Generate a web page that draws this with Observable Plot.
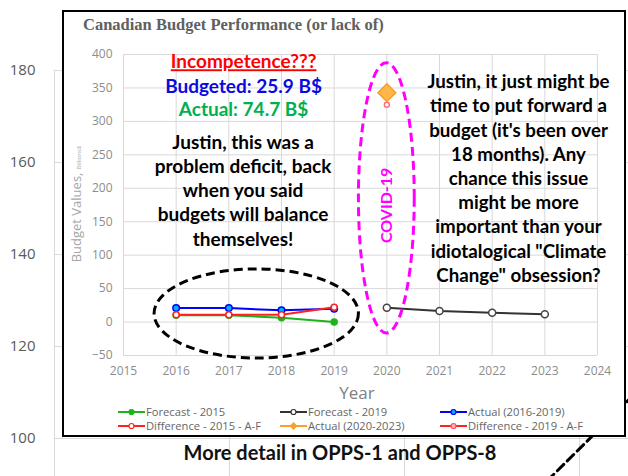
<!DOCTYPE html>
<html><head><meta charset="utf-8">
<script src="https://cdn.jsdelivr.net/npm/d3@7"></script>
<script src="https://cdn.jsdelivr.net/npm/@observablehq/plot@0.6"></script>
<style>
body{margin:0;background:#fff;}
#wrap{position:relative;width:628px;height:476px;overflow:hidden;background:#fff;}
#wrap > svg, #wrap > div{position:absolute;left:0;top:0;}
#box{position:absolute;left:62px !important;top:10px !important;width:560px;height:423px;border:2px solid #000;background:#fff;}
</style></head>
<body><div id="wrap"></div>
<script>
// ---------- data ----------
const xTicks = [2015,2016,2017,2018,2019,2020,2021,2022,2023,2024];
const yTicks = [-50,0,50,100,150,200,250,300,350,400];
const years2016_2019 = [2016,2017,2018,2019];
const forecast2015 = [10,10,6.5,0];
const actual2016_2019 = [21,21,17.5,20];
const difference2015 = [11,11,11,22];
const years2020_2023 = [2020,2021,2022,2023];
const forecast2019 = [21.5,16.5,14,11.5];
const years2020 = [2020];
const actual2020_2023 = [343];
const difference2019 = [325];
const legendLabels = ["Forecast - 2015","Forecast - 2019","Actual (2016-2019)","Difference - 2015 - A-F","Actual (2020-2023)","Difference - 2019 - A-F"];
const bgYTicks = [100,120,140,160,180];
const bgXGrid = [0,1,2,3];
const bgArrowX = [2.76, 3.349];
const bgArrowY = [88.7, 110.96];

const headline = [
  {x:2017.28, y:388.5, text:"Incompetence???", color:"#ff0000"},
  {x:2017.28, y:351, text:"Budgeted: 25.9 B$", color:"#0a0ae0"},
  {x:2017.28, y:316.5, text:"Actual: 74.7 B$", color:"#00b050"}
];
const leftNote = [{x:2017.27, y:198.4, text:"Justin, this was a\nproblem deficit, back\nwhen you said\nbudgets will balance\nthemselves!"}];
const rightNote = [{x:2022.5, y:216.4, text:"Justin, it just might be\ntime to put forward a\nbudget (it's been over\n18 months). Any\nchance this issue\nmight be more\nimportant than your\nidiotalogical \"Climate\nChange\" obsession?"}];
const covidNote = [{x:2020, y:174.5, text:"COVID-19"}];
const covidEllipse = {x:2020, y:185, rx:0.53, ry:202, color:"#ff00ff"};
const deficitEllipse = {x:2017.53, y:12.1, rx:1.94, ry:66.6, color:"#000000"};

const rows = (xs, ys) => xs.map((x,i) => ({x, y: ys[i]}));
const wrap = document.getElementById("wrap");

// ---------- background chart (partially hidden) ----------
const bg = Plot.plot({
  width:628, height:476, marginLeft:54, marginRight:0, marginTop:70, marginBottom:0,
  style:{background:"transparent", fontFamily:"'Open Sans', sans-serif", fontSize:"15px", color:"#595959"},
  x:{domain:[0,3.28], axis:null},
  y:{domain:[91.74,180], ticks:bgYTicks, tickSize:0, tickPadding:19, label:null},
  marks:[
    Plot.ruleY(bgYTicks,{stroke:"#d9d9d9"}),
    Plot.ruleX(bgXGrid,{stroke:"#d9d9d9"}),
    Plot.line(rows(bgArrowX,bgArrowY),{x:"x",y:"y",stroke:"#000",strokeWidth:3,strokeDasharray:"9,5"})
  ]
});
wrap.appendChild(bg);

const box = document.createElement("div");
box.id = "box";
wrap.appendChild(box);

// ---------- main chart ----------
const dotOpts = (fill, stroke, r=3) => ({x:"x", y:"y", fill, stroke, r, strokeWidth:1.5});
const main = Plot.plot({
  width:628, height:476, marginLeft:123, marginRight:31, marginTop:54, marginBottom:121,
  style:{background:"transparent", fontFamily:"'Open Sans', sans-serif", fontSize:"12px", color:"#8c8c8c", overflow:"visible"},
  x:{domain:[2015,2024], ticks:xTicks, tickFormat:d=>String(d), tickSize:0, tickPadding:11, label:null},
  y:{domain:[-50,400], ticks:yTicks, tickSize:0, tickPadding:11, label:null},
  marks:[
    Plot.ruleX(xTicks,{stroke:"#d9d9d9"}),
    Plot.ruleY(yTicks,{stroke:"#d9d9d9"}),
    Plot.line(rows(years2016_2019,forecast2015),{x:"x",y:"y",stroke:"#1db31d",strokeWidth:2}),
    Plot.dot(rows(years2016_2019,forecast2015),dotOpts("#1db31d","#1db31d")),
    Plot.line(rows(years2016_2019,actual2016_2019),{x:"x",y:"y",stroke:"#0000ff",strokeWidth:2}),
    Plot.dot(rows(years2016_2019,actual2016_2019),dotOpts("#00b0f0","#0000ff",3.3)),
    Plot.line(rows(years2016_2019,difference2015),{x:"x",y:"y",stroke:"#ff2020",strokeWidth:2}),
    Plot.dot(rows(years2016_2019,difference2015),dotOpts("#ffffff","#ff2020")),
    Plot.line(rows(years2020_2023,forecast2019),{x:"x",y:"y",stroke:"#333333",strokeWidth:2}),
    Plot.dot(rows(years2020_2023,forecast2019),dotOpts("#ffffff","#444444",3.5)),
    Plot.dot(rows(years2020,actual2020_2023),{x:"x",y:"y",symbol:"diamond2",r:8,fill:"#ffb74d",stroke:"#f5a020",strokeWidth:1.5}),
    Plot.dot(rows(years2020,difference2019),dotOpts("#ffffff","#ff7080",2.5)),
    Plot.text(headline,{x:"x",y:"y",text:"text",fill:"color",fontFamily:"Lato, sans-serif",fontWeight:"bold",fontSize:19}),
    Plot.text(leftNote,{x:"x",y:"y",text:"text",fill:"#000",fontFamily:"Lato, sans-serif",fontWeight:"bold",fontSize:19,lineHeight:1.274}),
    Plot.text(rightNote,{x:"x",y:"y",text:"text",fill:"#000",fontFamily:"Lato, sans-serif",fontWeight:"bold",fontSize:18.7,lineHeight:1.295}),
    Plot.text(covidNote,{x:"x",y:"y",text:"text",fill:"#ff00ff",rotate:-90,fontFamily:"Lato, sans-serif",fontWeight:"bold",fontSize:16})
  ]
});
wrap.appendChild(main);

// underline headline
main.querySelectorAll("text").forEach(t => { if (t.textContent === "Incompetence???") t.style.textDecoration = "underline"; });

// ellipses through scales
const sx = d3.scaleLinear().domain([2015,2024]).range([123,597]);
const sy = d3.scaleLinear().domain([-50,400]).range([355,54]);
const xs = main.scale && main.scale("x") && main.scale("x").apply ? main.scale("x").apply : sx;
const ys = main.scale && main.scale("y") && main.scale("y").apply ? main.scale("y").apply : sy;
for (const e of [deficitEllipse, covidEllipse]) {
  d3.select(main).append("ellipse")
    .attr("cx", xs(e.x)).attr("cy", ys(e.y))
    .attr("rx", Math.abs(xs(e.x + e.rx) - xs(e.x)))
    .attr("ry", Math.abs(ys(e.y + e.ry) - ys(e.y)))
    .attr("fill","none").attr("stroke", e.color).attr("stroke-width",3).attr("stroke-dasharray","9,5");
}

// ---------- overlay texts: title, axis titles, legend, caption ----------
const ov = d3.create("svg").attr("width",628).attr("height",476);
ov.append("text").attr("x",83).attr("y",30).attr("font-family","'Liberation Serif', serif").attr("font-weight","bold")
  .attr("font-size",16.5).attr("fill","#606060").text("Canadian Budget Performance (or lack of)");
const yt = ov.append("text").attr("transform","translate(81,204) rotate(-90)").attr("text-anchor","middle")
  .attr("font-family","'Open Sans', sans-serif").attr("fill","#a6a6a6");
yt.append("tspan").attr("font-size",13).text("Budget Values, ");
yt.append("tspan").attr("font-size",6).text("Billions$");
ov.append("text").attr("x",357).attr("y",399).attr("text-anchor","middle").attr("font-family","'Open Sans', sans-serif")
  .attr("font-size",17).attr("fill","#808080").text("Year");

const legendStyle = [
  {line:"#1db31d", fill:"#1db31d", stroke:"#1db31d", sym:"circle"},
  {line:"#333333", fill:"#ffffff", stroke:"#333333", sym:"circle"},
  {line:"#0000ff", fill:"#00b0f0", stroke:"#0000ff", sym:"circle"},
  {line:"#ff2020", fill:"#ffffff", stroke:"#ff2020", sym:"circle"},
  {line:"#f7a12b", fill:"#f7a12b", stroke:"#f7a12b", sym:"diamond"},
  {line:"#ff2020", fill:"#ffb0b8", stroke:"#ff5060", sym:"circle"}
];
const colX = [118,280,440], rowY = [412,426];
legendLabels.forEach((lab,i) => {
  const cx = colX[i%3], cy = rowY[Math.floor(i/3)], s = legendStyle[i];
  const g = ov.append("g");
  g.append("line").attr("x1",cx).attr("x2",cx+27).attr("y1",cy).attr("y2",cy).attr("stroke",s.line).attr("stroke-width",2);
  if (s.sym === "diamond") g.append("path").attr("d",`M${cx+13.5},${cy-4}L${cx+17.5},${cy}L${cx+13.5},${cy+4}L${cx+9.5},${cy}Z`).attr("fill",s.fill);
  else g.append("circle").attr("cx",cx+13.5).attr("cy",cy).attr("r",2.5).attr("fill",s.fill).attr("stroke",s.stroke).attr("stroke-width",1.2);
  g.append("text").attr("x",cx+28).attr("y",cy+4).attr("font-family","'Open Sans', sans-serif").attr("font-size",11.2).attr("fill","#666666").text(lab);
});
ov.append("text").attr("x",340).attr("y",460).attr("text-anchor","middle").attr("font-family","Lato, sans-serif")
  .attr("font-weight","bold").attr("font-size",20).attr("fill","#111").text("More detail in OPPS-1 and OPPS-8");
wrap.appendChild(ov.node());
</script></body></html>
